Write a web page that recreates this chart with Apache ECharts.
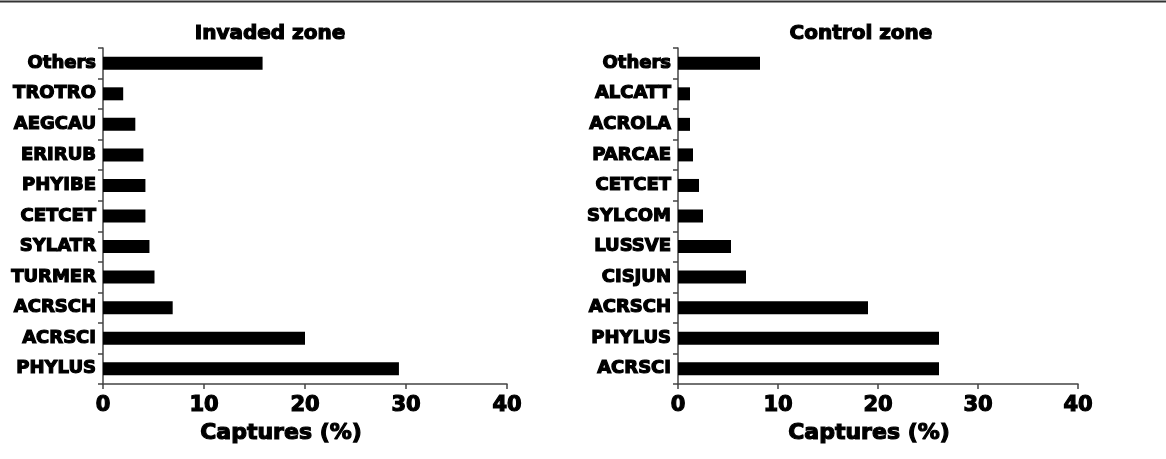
<!DOCTYPE html>
<html>
<head>
<meta charset="utf-8">
<script src="https://cdn.jsdelivr.net/npm/echarts@6/dist/echarts.min.js"></script>
<style>
  html, body { margin: 0; padding: 0; background: #fff; }
  #chart { width: 1166px; height: 459px; }
</style>
</head>
<body>
<div id="chart"></div>
<script>
// categories listed bottom -> top
const invadedSpecies = ['PHYLUS', 'ACRSCI', 'ACRSCH', 'TURMER', 'SYLATR', 'CETCET', 'PHYIBE', 'ERIRUB', 'AEGCAU', 'TROTRO', 'Others'];
const invadedCaptures = [29.3, 20.0, 6.9, 5.1, 4.6, 4.2, 4.2, 4.0, 3.2, 2.0, 15.8];
const controlSpecies = ['ACRSCI', 'PHYLUS', 'ACRSCH', 'CISJUN', 'LUSSVE', 'SYLCOM', 'CETCET', 'PARCAE', 'ACROLA', 'ALCATT', 'Others'];
const controlCaptures = [26.1, 26.1, 19.0, 6.8, 5.3, 2.5, 2.1, 1.5, 1.2, 1.2, 8.2];
const xTicks = [0, 10, 20, 30, 40];

const font = '"DejaVu Sans", "Liberation Sans", sans-serif';
const axisColor = '#444';
// heavy look: bold + black outline
const heavy = { fontFamily: font, fontWeight: 'bold', color: '#000', textBorderColor: '#000', textBorderWidth: 1.2 };

function xAxisFor(idx, namePad) {
    return {
        type: 'value', gridIndex: idx, min: xTicks[0], max: xTicks[xTicks.length - 1], interval: 10,
        name: 'Captures (%)', nameLocation: 'middle', nameGap: 38,
        nameTextStyle: Object.assign({}, heavy, { fontSize: 22, padding: namePad }),
        axisLine: { show: true, lineStyle: { color: axisColor, width: 1.5 } },
        axisTick: { show: true, length: 5, lineStyle: { color: axisColor, width: 1.5 } },
        axisLabel: Object.assign({}, heavy, { fontSize: 21, margin: 11 }),
        splitLine: { show: false }
    };
}
function yAxisFor(idx, cats) {
    return {
        type: 'category', gridIndex: idx, data: cats,
        axisLine: { show: true, lineStyle: { color: axisColor, width: 1.5 } },
        axisTick: { show: true, length: 5, lineStyle: { color: axisColor, width: 1.5 } },
        axisLabel: Object.assign({}, heavy, { fontSize: 18, margin: 7 })
    };
}

const chart = echarts.init(document.getElementById('chart'), null, { renderer: 'canvas' });
chart.setOption({
    animation: false,
    backgroundColor: '#fff',
    title: [
        { text: 'Invaded zone', left: 265, top: 19, textAlign: 'center',
          textStyle: Object.assign({}, heavy, { fontSize: 20 }) },
        { text: 'Control zone', left: 856, top: 19, textAlign: 'center',
          textStyle: Object.assign({}, heavy, { fontSize: 20 }) }
    ],
    graphic: [
        { type: 'line', shape: { x1: 0, y1: 1.5, x2: 1166, y2: 1.5 }, style: { stroke: '#333', lineWidth: 2 } }
    ],
    grid: [
        { left: 103, top: 48, width: 404, height: 336 },
        { left: 678, top: 48, width: 400, height: 336 }
    ],
    xAxis: [xAxisFor(0, [0, 48, 0, 0]), xAxisFor(1, [0, 18, 0, 0])],
    yAxis: [yAxisFor(0, invadedSpecies), yAxisFor(1, controlSpecies)],
    series: [
        { type: 'bar', xAxisIndex: 0, yAxisIndex: 0, data: invadedCaptures, barWidth: 13,
          itemStyle: { color: '#000' } },
        { type: 'bar', xAxisIndex: 1, yAxisIndex: 1, data: controlCaptures, barWidth: 13,
          itemStyle: { color: '#000' } }
    ]
});
</script>
</body>
</html>
